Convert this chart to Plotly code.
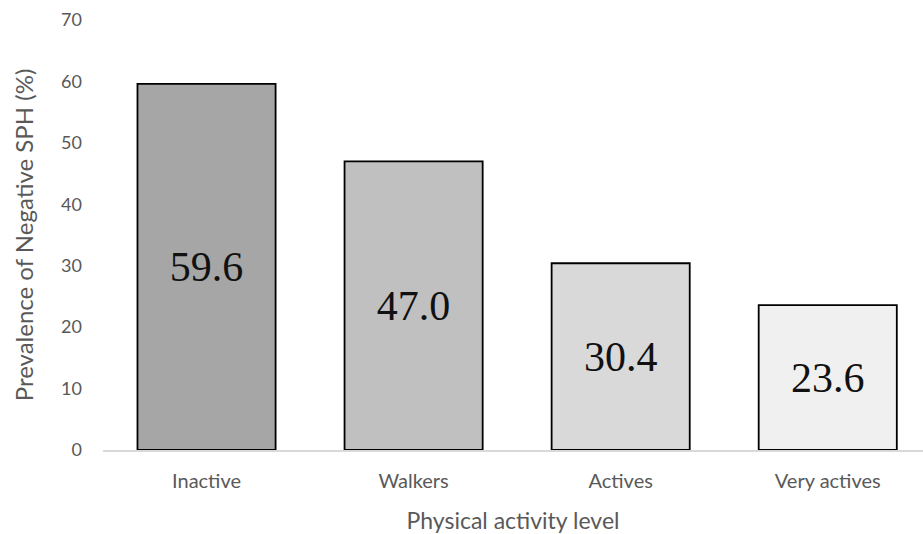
import plotly.graph_objects as go

categories = ["Inactive", "Walkers", "Actives", "Very actives"]
values = [59.6, 47.0, 30.4, 23.6]
value_labels = ["59.6", "47.0", "30.4", "23.6"]
colors = ["#a6a6a6", "#c0c0c0", "#d9d9d9", "#f0f0f0"]
y_ticks = [0, 10, 20, 30, 40, 50, 60, 70]

fig = go.Figure(go.Bar(
    x=categories, y=values,
    text=value_labels, textposition="inside", insidetextanchor="middle",
    textangle=0,
    textfont=dict(family="Liberation Serif, serif", size=42, color="#111111"),
    marker=dict(color=colors, line=dict(color="#000000", width=1.8)),
    width=0.667,
))

fig.update_layout(
    width=923, height=534,
    margin=dict(l=103, r=0, t=20, b=84),
    plot_bgcolor="white", paper_bgcolor="white",
    showlegend=False,
    xaxis=dict(
        range=[-0.5, 3.46],
        showline=True, linecolor="#d9d9d9", linewidth=1.5,
        ticks="", showgrid=False, automargin=False,
        ticklabelstandoff=12,
        tickfont=dict(family="Lato, sans-serif", size=20, color="#595959"),
        title=dict(text="Physical activity level", standoff=22,
                   font=dict(family="Lato, sans-serif", size=23, color="#595959")),
    ),
    yaxis=dict(
        range=[0, 70], tickvals=y_ticks,
        showgrid=False, showline=False, zeroline=False, ticks="",
        automargin=False,
        ticklabelstandoff=20,
        tickfont=dict(family="Lato, sans-serif", size=18, color="#595959"),
        title=dict(text="Prevalence of Negative SPH (%)", standoff=20,
                   font=dict(family="Lato, sans-serif", size=24, color="#595959")),
    ),
)

fig.write_html("out.html")
